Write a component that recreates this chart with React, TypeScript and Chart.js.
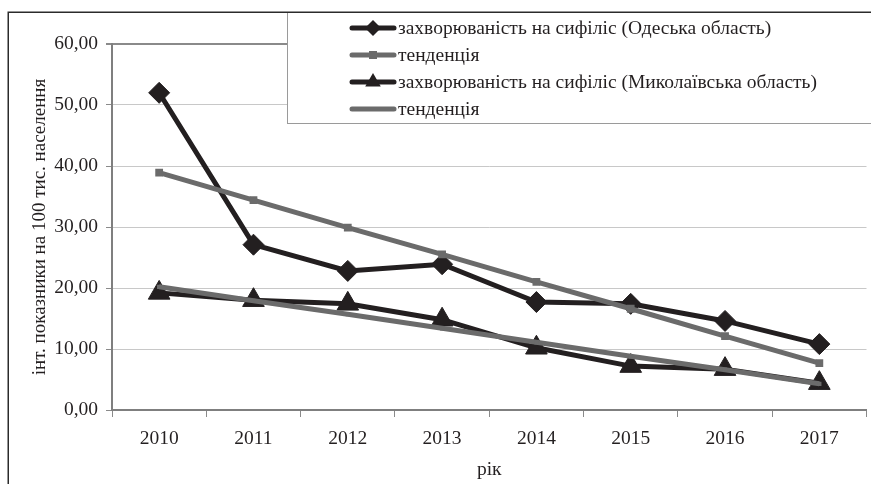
import React, { useEffect, useRef } from "react";
import { Chart, registerables } from "chart.js";

Chart.register(...registerables);

const years = ["2010", "2011", "2012", "2013", "2014", "2015", "2016", "2017"];
const odesa = [52.0, 27.1, 22.8, 23.9, 17.7, 17.4, 14.6, 10.8];
const odesaTrend = [38.9, 34.4, 29.9, 25.5, 21.0, 16.6, 12.1, 7.7];
const mykolaiv = [19.2, 18.0, 17.4, 14.8, 10.2, 7.2, 6.7, 4.4];
const mykolaivTrend = [20.2, 17.9, 15.7, 13.4, 11.1, 8.8, 6.6, 4.3];
const seriesLabels = [
  "захворюваність на сифіліс (Одеська область)",
  "тенденція",
  "захворюваність на сифіліс (Миколаївська область)",
  "тенденція",
];
const yTitle = "інт. показники на 100 тис. населення";
const xTitle = "рік";

const BLACK = "#231f20";
const GRAY = "#6b6b6b";
const FONT = '"Liberation Serif", "Times New Roman", serif';

type Marker = "diamond" | "square" | "triangle" | "none";
const legendMarkers: Marker[] = ["diamond", "square", "triangle", "none"];

function drawMarker(ctx: CanvasRenderingContext2D, m: Marker, x: number, y: number, color: string) {
  ctx.save();
  ctx.fillStyle = color;
  ctx.beginPath();
  if (m === "diamond") {
    const r = 8;
    ctx.moveTo(x - r, y);
    ctx.lineTo(x, y - r);
    ctx.lineTo(x + r, y);
    ctx.lineTo(x, y + r);
    ctx.closePath();
    ctx.fill();
  } else if (m === "square") {
    const s = 4;
    ctx.rect(x - s, y - s, 2 * s, 2 * s);
    ctx.fill();
  } else if (m === "triangle") {
    const r = 9;
    ctx.moveTo(x, y - r);
    ctx.lineTo(x + r * 0.866, y + r * 0.5);
    ctx.lineTo(x - r * 0.866, y + r * 0.5);
    ctx.closePath();
    ctx.fill();
  }
  ctx.restore();
}

const decorPlugin = {
  id: "decor",
  beforeDraw(chart: any) {
    const ctx = chart.ctx as CanvasRenderingContext2D;
    ctx.save();
    ctx.fillStyle = "#ffffff";
    ctx.fillRect(0, 0, chart.width, chart.height);
    ctx.restore();
  },
  afterDraw(chart: any) {
    const ctx = chart.ctx as CanvasRenderingContext2D;
    ctx.save();
    // legend box
    ctx.fillStyle = "#ffffff";
    ctx.fillRect(287, 12, 700, 111);
    ctx.strokeStyle = "#9a9a9a";
    ctx.lineWidth = 1;
    ctx.strokeRect(287.5, 12.5, 700, 111);
    const rows = [28, 55, 82, 109];
    chart.data.datasets.forEach((ds: any, i: number) => {
      const y = rows[i];
      ctx.strokeStyle = ds.borderColor;
      ctx.lineWidth = 5;
      ctx.lineCap = "round";
      ctx.beginPath();
      ctx.moveTo(352, y);
      ctx.lineTo(394, y);
      ctx.stroke();
      drawMarker(ctx, legendMarkers[i], 373, y, ds.borderColor);
      ctx.fillStyle = BLACK;
      ctx.font = "19.5px " + FONT;
      ctx.textBaseline = "middle";
      ctx.textAlign = "left";
      ctx.fillText(seriesLabels[i], 398, y + 1);
    });
    // outer frame
    ctx.strokeStyle = "#2b2b2b";
    ctx.lineWidth = 1.5;
    ctx.lineCap = "butt";
    ctx.strokeRect(8.25, 12.25, 1200, 1200);
    ctx.restore();
  },
};

export default function App() {
  const ref = useRef<HTMLCanvasElement | null>(null);
  useEffect(() => {
    if (!ref.current) return;
    const chart = new Chart(ref.current, {
      type: "line",
      data: {
        labels: years,
        datasets: [
          {
            label: seriesLabels[0],
            data: odesa,
            borderColor: BLACK,
            backgroundColor: BLACK,
            borderWidth: 5,
            pointStyle: "rectRot",
            pointRadius: 10.5,
            pointBorderWidth: 1,
            tension: 0,
            order: 4,
          },
          {
            label: seriesLabels[1],
            data: odesaTrend,
            borderColor: GRAY,
            backgroundColor: GRAY,
            borderWidth: 5,
            pointStyle: "rect",
            pointRadius: 5.5,
            pointBorderWidth: 0,
            tension: 0,
            order: 3,
          },
          {
            label: seriesLabels[2],
            data: mykolaiv,
            borderColor: BLACK,
            backgroundColor: BLACK,
            borderWidth: 5,
            pointStyle: "triangle",
            pointRadius: 12.5,
            pointBorderWidth: 1,
            tension: 0,
            order: 2,
          },
          {
            label: seriesLabels[3],
            data: mykolaivTrend,
            borderColor: GRAY,
            backgroundColor: GRAY,
            borderWidth: 5,
            pointStyle: "rect",
            pointRadius: 3,
            pointBorderWidth: 0,
            tension: 0,
            order: 1,
          },
        ],
      },
      options: {
        responsive: false,
        animation: false,
        devicePixelRatio: 1,
        layout: { padding: { top: 44, right: 5, left: 0, bottom: 0 } },
        plugins: {
          legend: { display: false },
          tooltip: { enabled: false },
        },
        scales: {
          x: {
            offset: true,
            afterFit: (s: any) => {
              s.height = 74;
            },
            border: { display: true, color: "#7f7f7f", width: 2 },
            grid: {
              offset: true,
              drawOnChartArea: false,
              drawTicks: true,
              tickLength: 7,
              color: "#8a8a8a",
            },
            ticks: {
              color: BLACK,
              font: { family: FONT, size: 19.5 },
              padding: 10,
              maxRotation: 0,
            },
            title: {
              display: true,
              text: xTitle,
              color: BLACK,
              font: { family: FONT, size: 19.5 },
              padding: { top: 0, bottom: 2 },
            },
          },
          y: {
            min: 0,
            max: 60,
            afterFit: (s: any) => {
              s.width = 112;
            },
            border: { display: true, color: "#7f7f7f", width: 2 },
            grid: {
              color: (c: any) => (c.tick && c.tick.value === 60 ? "#8a8a8a" : "#c8c8c8"),
              lineWidth: (c: any) => (c.tick && c.tick.value === 60 ? 2 : 1),
              tickLength: 6,
              tickColor: "#8a8a8a",
            },
            ticks: {
              stepSize: 10,
              color: BLACK,
              font: { family: FONT, size: 19.5 },
              padding: 8,
              callback: (v: any) => Number(v).toFixed(2).replace(".", ","),
            },
            title: {
              display: true,
              text: yTitle,
              color: BLACK,
              font: { family: FONT, size: 19 },
              padding: { top: 29, bottom: 0 },
            },
          },
        },
      },
      plugins: [decorPlugin],
    });
    return () => chart.destroy();
  }, []);
  return (
    <div
      style={{
        position: "absolute",
        left: 0,
        top: 0,
        width: 871,
        height: 484,
        overflow: "hidden",
        background: "#fff",
      }}
    >
      <canvas ref={ref} width={880} height={484} style={{ display: "block" }} />
    </div>
  );
}
